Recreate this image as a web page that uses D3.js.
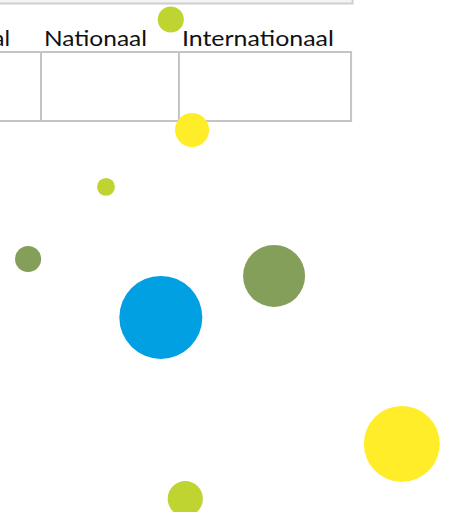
<!DOCTYPE html>
<html>
<head>
<meta charset="utf-8">
<script src="https://cdn.jsdelivr.net/npm/d3@7"></script>
<style>
  html, body { margin: 0; padding: 0; background: #fff; overflow: hidden; }
  svg { display: block; }
</style>
</head>
<body>
<svg id="chart" width="453" height="512"></svg>
<script>
// ---- Data ----
const categories = ["Regionaal", "Nationaal", "Internationaal"];
// column boundaries in chart units (0-100 horizontal)
const columnEdges = [-20.5, 9.05, 39.5, 77.5];
const groupNames = ["lime", "yellow", "olive", "blue"];
const groupColors = ["#bfd431", "#ffed29", "#849f5a", "#00a0e3"];
const bubbleGroup = [0, 1, 0, 2, 2, 3, 1, 0];
const bubbleX = [37.7, 42.4, 23.4, 6.2, 60.5, 35.5, 88.7, 40.9];
const bubbleY = [3.8, 25.4, 36.5, 50.6, 53.9, 62.0, 86.7, 97.4];
const bubbleSize = [17, 29, 8, 17, 96, 172, 144, 31];

// ---- Layout ----
const W = 453, H = 512;
const svg = d3.select("#chart");
const x = d3.scaleLinear().domain([0, 100]).range([0, W]);
const y = d3.scaleLinear().domain([0, 100]).range([0, H]);
const r = d3.scaleSqrt().domain([0, 172]).range([0, 41.5]);
const color = d3.scaleOrdinal().domain(d3.range(groupNames.length)).range(groupColors);

// top (cut-off) box
svg.append("rect")
  .attr("x", -10).attr("y", -30)
  .attr("width", x(columnEdges[3]) + 11.5).attr("height", 33.5)
  .attr("fill", "#f4f4f4")
  .attr("stroke", "#cfcfcf").attr("stroke-width", 2);

// header labels
const gridTop = 52, gridBottom = 121;
svg.append("g").selectAll("text")
  .data(categories)
  .join("text")
  .attr("x", (d, i) => x(columnEdges[i]) + 3)
  .attr("y", 45.5)
  .attr("font-family", "Lato, 'Open Sans', sans-serif")
  .attr("font-size", 22)
  .attr("fill", "#111")
  .text(d => d)
  .each(function(d, i) {
    const targets = { "Nationaal": 103, "Internationaal": 152 };
    if (targets[d]) {
      d3.select(this).attr("textLength", targets[d]).attr("lengthAdjust", "spacingAndGlyphs");
    } else {
      d3.select(this).attr("textLength", 100).attr("lengthAdjust", "spacingAndGlyphs");
    }
  });

// grid
const grid = svg.append("g").attr("stroke", "#c4c4c4").attr("stroke-width", 2).attr("fill", "none");
grid.append("line").attr("x1", x(columnEdges[0])).attr("x2", x(columnEdges[3])).attr("y1", gridTop).attr("y2", gridTop);
grid.append("line").attr("x1", x(columnEdges[0])).attr("x2", x(columnEdges[3]) + 1).attr("y1", gridBottom).attr("y2", gridBottom);
grid.selectAll("line.v")
  .data(columnEdges)
  .join("line")
  .attr("class", "v")
  .attr("x1", d => x(d)).attr("x2", d => x(d))
  .attr("y1", gridTop - 1).attr("y2", gridBottom + 1);

// bubbles
svg.append("g").selectAll("circle")
  .data(bubbleX.map((v, i) => ({ x: v, y: bubbleY[i], s: bubbleSize[i], g: bubbleGroup[i] })))
  .join("circle")
  .attr("cx", d => x(d.x))
  .attr("cy", d => y(d.y))
  .attr("r", d => r(d.s))
  .attr("fill", d => color(d.g));
</script>
</body>
</html>
